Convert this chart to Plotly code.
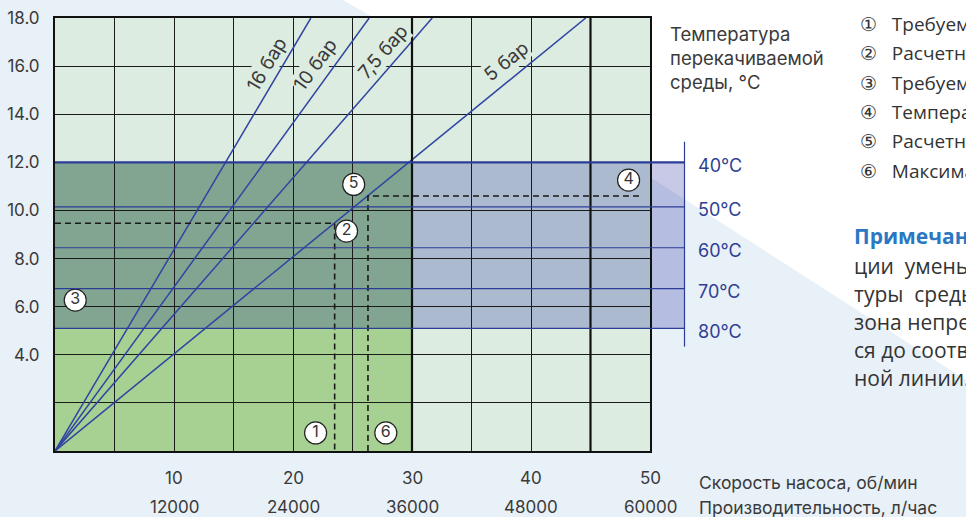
import math
import plotly.graph_objects as go

# ---------------- data ----------------
speed_ticks = [10, 20, 30, 40, 50]                      # об/мин
flow_ticks = ["12000", "24000", "36000", "48000", "60000"]  # л/час
head_ticks = [0, 2, 4, 6, 8, 10, 12, 14, 16, 18]
head_ticklabels = ["", "", "4.0", "6.0", "8.0", "10.0", "12.0", "14.0", "16.0", "18.0"]

pressure_labels = ["16 бар", "10 бар", "7,5 бар", "5 бар"]
pressure_x_at_top = [21.5, 26.4, 31.7, 44.6]   # speed where each line reaches 18.0
top_value = 18.0

temp_labels = ["40°C", "50°C", "60°C", "70°C", "80°C"]
temp_levels = [12.0, 10.15, 8.45, 6.75, 5.1]

green_zone_speed = 30
green_zone_top = 12.0

dash_a_x = [0, 23.5, 23.5]
dash_a_y = [9.47, 9.47, 0]
dash_b_x = [26.3, 26.3, 49.4]
dash_b_y = [0, 10.6, 10.6]

point_ids = ["1", "2", "3", "4", "5", "6"]
point_x = [21.9, 24.5, 1.7, 48.2, 25.1, 27.8]
point_y = [0.75, 9.14, 6.27, 11.26, 11.08, 0.75]

legend_items = [
    "①   Требуемая производительность",
    "②   Расчетная скорость насоса",
    "③   Требуемое давление",
    "④   Температура перекачиваемой среды",
    "⑤   Расчетное давление",
    "⑥   Максимальная скорость насоса",
]
note_lines = [
    "ции  уменьшение темпера-",
    "туры  среды рабочая",
    "зона непрерывной работы",
    "ся до соответствующей",
    "ной линии.",
]

# ---------------- geometry ----------------
W, H = 966, 517
L, R, T, B = 55, 316, 18, 66
PW, PH = W - L - R, H - T - B
XMAX, YMAX = 50, 18


def px(xp):
    return (xp - L) / PW


def py(yp):
    return (H - B - yp) / PH


NAVY = "#2c3d98"
TXT = "#3a3a3a"
FONT = "Inter"

fig = go.Figure()

# pressure lines
for lab, xt in zip(pressure_labels, pressure_x_at_top):
    fig.add_trace(go.Scatter(x=[0, xt], y=[0, top_value], mode="lines",
                             line=dict(color="#3044a2", width=1.5),
                             hoverinfo="skip", showlegend=False))

# dashed guides
for xs, ys in [(dash_a_x, dash_a_y), (dash_b_x, dash_b_y)]:
    fig.add_trace(go.Scatter(x=xs, y=ys, mode="lines",
                             line=dict(color="#1a1a1a", width=1.6, dash="6px,4px"),
                             hoverinfo="skip", showlegend=False))

# numbered points
fig.add_trace(go.Scatter(x=point_x, y=point_y, mode="markers+text", text=point_ids,
                         textposition="middle center",
                         textfont=dict(family=FONT, size=16, color="#333"),
                         marker=dict(size=22, color="white", line=dict(color="#222", width=1.2)),
                         hoverinfo="skip", showlegend=False, cliponaxis=False))

shapes = []
# page background: white triangle top-right
shapes.append(dict(type="path", xref="paper", yref="paper", layer="below",
                   path=f"M {px(330)} {py(-10)} L {px(343)} {py(0)} L {px(650)} {py(177)} "
                        f"L {px(966)} {py(380)} L {px(1000)} {py(400)} L {px(1000)} {py(-10)} Z",
                   fillcolor="white", line=dict(width=0)))
# plot background
shapes.append(dict(type="rect", xref="paper", yref="paper", layer="below",
                   x0=0, x1=1, y0=0, y1=1, fillcolor="#dcece0", line=dict(width=0)))
# green zone
shapes.append(dict(type="rect", xref="paper", yref="paper", layer="below",
                   x0=0, x1=green_zone_speed / XMAX, y0=0, y1=green_zone_top / YMAX,
                   fillcolor="#a6d193", line=dict(width=0)))
# temperature band
band_right = px(684.5)
shapes.append(dict(type="rect", xref="paper", yref="paper", layer="below",
                   x0=0, x1=band_right, y0=min(temp_levels) / YMAX, y1=max(temp_levels) / YMAX,
                   fillcolor="rgba(0,10,140,0.22)", line=dict(width=0)))
# thicker grid lines
for xv in [30, 45]:
    shapes.append(dict(type="line", xref="x", yref="paper", layer="above",
                       x0=xv, x1=xv, y0=0, y1=1, line=dict(color="#111", width=2.2)))
# temperature lines
for i, lv in enumerate(temp_levels):
    shapes.append(dict(type="line", xref="paper", yref="paper", layer="above",
                       x0=0, x1=band_right, y0=lv / YMAX, y1=lv / YMAX,
                       line=dict(color=NAVY, width=2.2 if i == 0 else 1.2)))
shapes.append(dict(type="line", xref="paper", yref="paper", layer="above",
                   x0=band_right, x1=band_right, y0=py(346.7), y1=py(141.7),
                   line=dict(color=NAVY, width=1.2)))

annotations = []
# x tick labels (two rows)
for v, f in zip(speed_ticks, flow_ticks):
    annotations.append(dict(x=v / XMAX, y=py(478), xref="paper", yref="paper", text=str(v),
                            showarrow=False, xanchor="center", yanchor="middle",
                            font=dict(family=FONT, size=17, color=TXT)))
    annotations.append(dict(x=v / XMAX, y=py(507), xref="paper", yref="paper", text=f,
                            showarrow=False, xanchor="center", yanchor="middle",
                            font=dict(family=FONT, size=17, color=TXT)))
annotations.append(dict(x=px(697), y=py(482), xref="paper", yref="paper",
                        text="Скорость насоса, об/мин", showarrow=False,
                        xanchor="left", yanchor="middle", font=dict(family=FONT, size=17.5, color=TXT)))
annotations.append(dict(x=px(697), y=py(507), xref="paper", yref="paper",
                        text="Производительность, л/час", showarrow=False,
                        xanchor="left", yanchor="middle", font=dict(family=FONT, size=17.5, color=TXT)))

# pressure labels along lines
label_pos = [(17.8, 16.06), (21.9, 16.06), (27.6, 16.6), (37.9, 16.2)]
for lab, xt, (lx, ly) in zip(pressure_labels, pressure_x_at_top, label_pos):
    slope_px = (top_value / xt) * (PH / YMAX) / (PW / XMAX)
    ang = -math.degrees(math.atan(slope_px))
    annotations.append(dict(x=lx, y=ly, xref="x", yref="y", text=lab, showarrow=False,
                            textangle=ang, xanchor="center", yanchor="middle",
                            bgcolor="#dcece0", borderpad=0,
                            font=dict(family=FONT, size=19, color=TXT)))

# temperature labels
for lab, lv in zip(temp_labels, temp_levels):
    annotations.append(dict(x=px(696), y=lv / YMAX, xref="paper", yref="paper", text=lab,
                            showarrow=False, xanchor="left", yanchor="middle", yshift=-3,
                            font=dict(family=FONT, size=18, color="#2e3f94")))

# title of temperature scale
annotations.append(dict(x=px(668), y=py(21), xref="paper", yref="paper",
                        text="Температура<br>перекачиваемой<br>среды, °C", showarrow=False,
                        xanchor="left", yanchor="top", align="left",
                        font=dict(family=FONT, size=18.5, color=TXT)))

# legend list on the right
for i, item in enumerate(legend_items):
    annotations.append(dict(x=px(858), y=py(24 + 29.3 * i), xref="paper", yref="paper",
                            text=item, showarrow=False, xanchor="left", yanchor="middle",
                            font=dict(family="Open Sans", size=19, color="#333")))

# note
annotations.append(dict(x=px(852), y=py(236), xref="paper", yref="paper",
                        text="<b>Примечание:</b> при эксплуата-", showarrow=False,
                        xanchor="left", yanchor="middle",
                        font=dict(family="Open Sans", size=21, color="#2a78c2")))
for i, ln in enumerate(note_lines):
    annotations.append(dict(x=px(852), y=py(266 + 28 * i), xref="paper", yref="paper",
                            text=ln, showarrow=False, xanchor="left", yanchor="middle",
                            font=dict(family="Open Sans", size=21, color="#333")))

fig.update_layout(
    width=W, height=H,
    margin=dict(l=L, r=R, t=T, b=B, pad=0, autoexpand=False),
    paper_bgcolor="#e8f0f8",
    plot_bgcolor="rgba(0,0,0,0)",
    shapes=shapes,
    annotations=annotations,
    showlegend=False,
    xaxis=dict(range=[0, XMAX], tickvals=list(range(0, XMAX + 1, 5)), showticklabels=False,
               showgrid=True, gridcolor="#1b1b1b", gridwidth=1.2, zeroline=False,
               showline=True, mirror=True, linecolor="#111", linewidth=2, ticks="",
               automargin=False),
    yaxis=dict(range=[0, YMAX], tickvals=head_ticks, ticktext=head_ticklabels,
               showgrid=True, gridcolor="#1b1b1b", gridwidth=1.2, zeroline=False,
               showline=True, mirror=True, linecolor="#111", linewidth=2,
               ticks="outside", ticklen=0, ticklabelstandoff=10, automargin=False,
               tickfont=dict(family=FONT, size=17, color=TXT)),
)

fig.write_html("out.html", config={"displayModeBar": False},
               post_script="document.body.style.margin='0';document.body.style.overflow='hidden';")
